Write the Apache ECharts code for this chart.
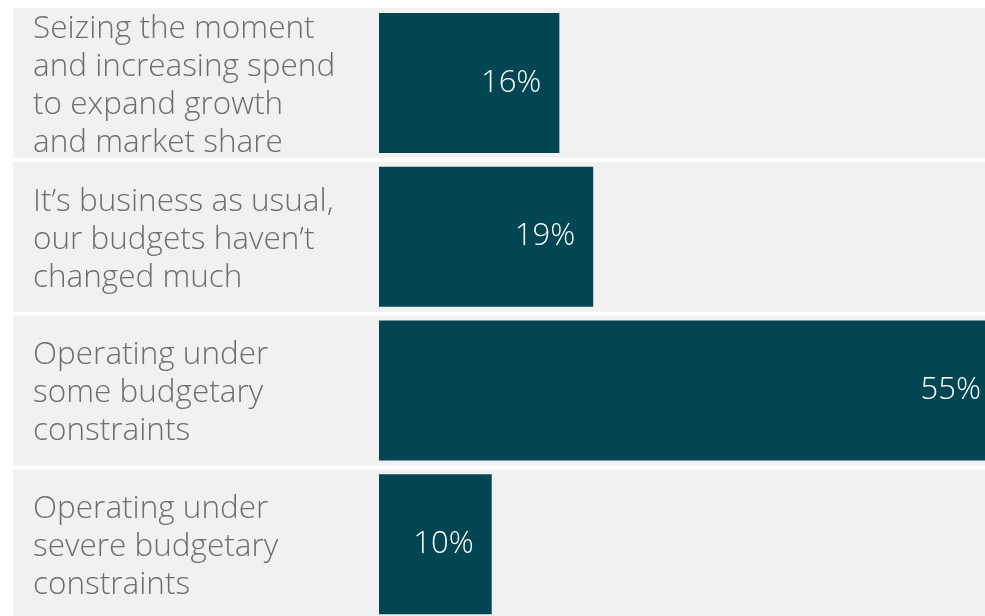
<!DOCTYPE html>
<html>
<head>
<meta charset="utf-8">
<script src="https://cdn.jsdelivr.net/npm/echarts@6/dist/echarts.min.js"></script>
<style>
  html, body { margin: 0; padding: 0; background: #ffffff; }
  #chart { width: 985px; height: 616px; }
</style>
</head>
<body>
<div id="chart"></div>
<script>
// Survey answers, top to bottom
const categories = [
  'Seizing the moment\nand increasing spend\nto expand growth\nand market share',
  'It\u2019s business as usual,\nour budgets haven\u2019t\nchanged much',
  'Operating under\nsome budgetary\nconstraints',
  'Operating under\nsevere budgetary\nconstraints'
];
const shares = [16, 19, 55, 10];   // percent of respondents
const rowFill = [1, 1, 1, 1];      // full-width row bands

const FONT = '"Open Sans"';
const chart = echarts.init(document.getElementById('chart'), null, { renderer: 'canvas' });

chart.setOption({
  backgroundColor: '#ffffff',
  animation: false,
  grid: [
    // row bands
    { left: 13, width: 972, top: 6, height: 615, outerBoundsMode: 'none', containLabel: false },
    // data bars (the longest bar runs past the right edge)
    { left: 379, width: 620, top: 6, height: 615, outerBoundsMode: 'none', containLabel: false },
    // category text, sitting slightly low in each band
    { left: 13, width: 360, top: 9, height: 615, outerBoundsMode: 'none', containLabel: false }
  ],
  xAxis: [
    { gridIndex: 0, type: 'value', min: 0, max: 1, show: false },
    { gridIndex: 1, type: 'value', min: 0, max: 55, show: false },
    { gridIndex: 2, type: 'value', min: 0, max: 1, show: false }
  ],
  yAxis: [
    { gridIndex: 0, type: 'category', data: categories, inverse: true, show: false },
    { gridIndex: 1, type: 'category', data: categories, inverse: true, show: false },
    {
      gridIndex: 2, type: 'category', data: categories, inverse: true,
      axisLine: { show: false }, axisTick: { show: false }, splitLine: { show: false },
      axisLabel: {
        inside: true, margin: 20, align: 'left',
        color: '#6e6e6e', fontFamily: FONT, fontWeight: 300, fontSize: 31.5, lineHeight: 38
      },
      z: 5
    }
  ],
  series: [
    {
      type: 'bar', xAxisIndex: 0, yAxisIndex: 0, data: rowFill,
      barWidth: 150, itemStyle: { color: '#f1f1f1' }, silent: true, z: 1
    },
    {
      type: 'bar', xAxisIndex: 1, yAxisIndex: 1, data: shares,
      barWidth: 140, itemStyle: { color: '#024653' }, z: 3,
      label: {
        show: true, position: 'insideRight', distance: 18,
        formatter: p => p.value + '%',
        color: '#ffffff', fontFamily: FONT, fontWeight: 300, fontSize: 31
      }
    }
  ]
});
</script>
</body>
</html>
